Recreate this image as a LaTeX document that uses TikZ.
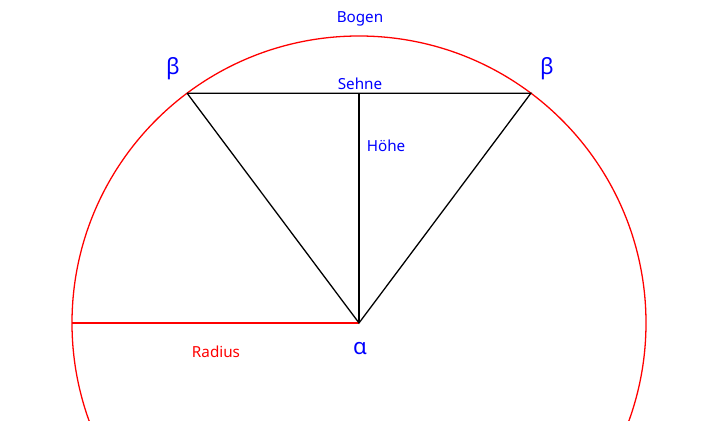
\documentclass[tikz,border=0pt]{standalone}
\usetikzlibrary{calc}
\usepackage{fontspec}
\setmainfont{Noto Sans}
\begin{document}
\begin{tikzpicture}[x=0.03cm,y=0.03cm,
  lbl/.style={text=blue,font=\fontsize{13}{15}\selectfont,inner sep=0},
  greek/.style={text=blue,font=\fontsize{19}{22}\selectfont,inner sep=0},
  seg/.style={black,line width=1.1pt},
  arc/.style={red,line width=1.1pt}]
\useasboundingbox (0,0) rectangle (720,421);
\coordinate (C) at (359,98);
\coordinate (L) at ($(C)+(126.8:287)$);
\coordinate (R) at ($(C)+(53.2:287)$);
\coordinate (H) at (359,327);
\coordinate (W) at (72,98);
\draw[arc] (C) circle (287);
\draw[arc] (W) -- (C);
\draw[seg] (L) -- (R) -- (C) -- (L);
\draw[seg] (C) -- (H);
\node[lbl] (bogen) at (360,402) {Bogen};
\node[lbl] (sehne) at (360,337) {Sehne};
\node[lbl] (hoehe) at (386,275) {Höhe};
\node[lbl,text=red] (radius) at (216,69) {Radius};
\node[greek] (alpha) at (360,72) {α};
\node[greek] (b1) at (173,352) {β};
\node[greek] (b2) at (547,352) {β};
\end{tikzpicture}
\end{document}
